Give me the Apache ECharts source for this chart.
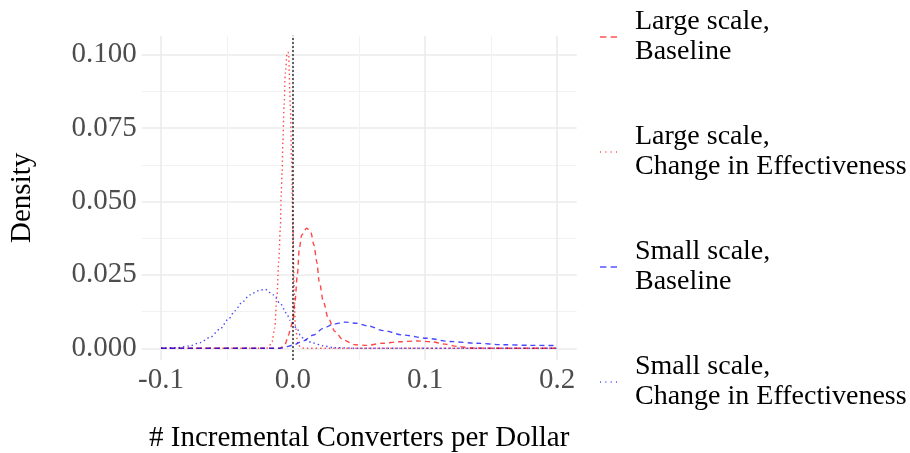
<!DOCTYPE html>
<html>
<head>
<meta charset="utf-8">
<script src="https://cdn.jsdelivr.net/npm/echarts@6/dist/echarts.min.js"></script>
<style>html,body{margin:0;padding:0;background:#fff;}#chart{width:910px;height:453px;}</style>
</head>
<body>
<div id="chart"></div>
<script>
// ---- data ----
var seriesNames = ['Large scale,\nBaseline', 'Large scale,\nChange in Effectiveness', 'Small scale,\nBaseline', 'Small scale,\nChange in Effectiveness'];

var largeBaseX = [-0.1, -0.01, -0.0063, -0.0033, -0.002, -0.0002, 0.0015, 0.0033, 0.0048, 0.0066, 0.0104, 0.0134, 0.0159, 0.018, 0.0199, 0.023, 0.0267, 0.0318, 0.0381, 0.047, 0.056, 0.068, 0.08, 0.094, 0.105, 0.115, 0.125, 0.135, 0.15, 0.2];
var largeBaseY = [0, 0, 0.0011, 0.0045, 0.0068, 0.0091, 0.0159, 0.025, 0.034, 0.0386, 0.0409, 0.0397, 0.0352, 0.0295, 0.0227, 0.0159, 0.0102, 0.0057, 0.0028, 0.0012, 0.001, 0.0017, 0.0022, 0.0025, 0.0022, 0.0014, 0.0006, 0.0001, 0, 0];

var largeChangeX = [-0.1, -0.02, -0.0184, -0.0159, -0.0139, -0.0121, -0.0108, -0.0096, -0.0089, -0.0083, -0.0076, -0.0068, -0.0058, -0.0045, -0.0038, -0.0033, -0.0028, -0.0025, -0.002, -0.0011, 0, 0.0009, 0.0017, 0.0038, 0.0068, 0.01, 0.2];
var largeChangeY = [0, 0, 0.0005, 0.0022, 0.0068, 0.0182, 0.0295, 0.0409, 0.0528, 0.0596, 0.0709, 0.0823, 0.0937, 0.1005, 0.1009, 0.1005, 0.0937, 0.088, 0.0823, 0.064, 0.040, 0.0199, 0.0079, 0.0011, 0.0001, 0, 0];

var smallBaseX = [-0.1, -0.01, -0.0073, 0.0002, 0.0078, 0.0154, 0.023, 0.0305, 0.0394, 0.0483, 0.057, 0.0684, 0.0836, 0.1013, 0.119, 0.139, 0.159, 0.1795, 0.2];
var smallBaseY = [0, 0, 0.0002, 0.0011, 0.0025, 0.0045, 0.0068, 0.0082, 0.0089, 0.0085, 0.0076, 0.006, 0.0045, 0.0034, 0.0023, 0.0017, 0.0012, 0.001, 0.0009];

var smallChangeX = [-0.1, -0.0881, -0.078, -0.0705, -0.0629, -0.0553, -0.049, -0.0439, -0.0389, -0.0326, -0.0263, -0.0212, -0.0149, -0.0098, -0.0048, -0.0023, 0.003, 0.0055, 0.0085, 0.015, 0.023, 0.031, 0.05, 0.2];
var smallChangeY = [0, 0.0002, 0.0008, 0.0019, 0.0037, 0.0065, 0.0099, 0.0128, 0.0155, 0.0182, 0.0196, 0.0201, 0.0182, 0.0153, 0.0119, 0.0096, 0.0068, 0.0045, 0.003, 0.0018, 0.0008, 0.0002, 0, 0];

var xTicks = [-0.1, 0.0, 0.1, 0.2];
var xMinorTicks = [-0.05, 0.05, 0.15];
var yTicks = [0, 0.025, 0.05, 0.075, 0.1];
var yMinorTicks = [0.0125, 0.0375, 0.0625, 0.0875];
var refLines = [0];

// ---- build chart ----
function zip(xs, ys) { return xs.map(function (x, i) { return [x, ys[i]]; }); }
var FONT = 'Liberation Serif';
var colors = ['rgb(255,0,0)', 'rgb(255,0,0)', 'rgb(0,0,255)', 'rgb(0,0,255)'];
var dashes = [[5, 4], [1.4, 3], [5, 4], [1.4, 3]];
var DASH_ICON = 'path://M0,0H6V1H0Z M10,0H16V1H10Z';
var DOT_ICON = 'path://M0,0H1V1H0Z M5,0H6V1H5Z M10,0H11V1H10Z M15,0H16V1H15Z';
var icons = [DASH_ICON, DOT_ICON, DASH_ICON, DOT_ICON];
var datas = [zip(largeBaseX, largeBaseY), zip(largeChangeX, largeChangeY), zip(smallBaseX, smallBaseY), zip(smallChangeX, smallChangeY)];

var xMin = -0.1146, xMax = 0.2149, yMin = -0.004, yMax = 0.1065;

var series = datas.map(function (d, i) {
  return {
    name: seriesNames[i], type: 'line', data: d, xAxisIndex: 0, yAxisIndex: 0,
    symbol: 'none', smooth: 0.3, smoothMonotone: 'x',
    color: colors[i],
    lineStyle: { color: colors[i], width: 1.4, type: dashes[i], opacity: 0.72 },
    z: 3
  };
});
series.push({
  type: 'line', data: [], xAxisIndex: 0, yAxisIndex: 0, silent: true,
  markLine: {
    silent: true, symbol: 'none', label: { show: false },
    lineStyle: { color: 'rgba(0,0,0,0.65)', type: [2, 2], width: 1.8 },
    data: refLines.map(function (v) { return { xAxis: v }; })
  },
  z: 4
});

var chart = echarts.init(document.getElementById('chart'), null, { renderer: 'canvas' });
chart.setOption({
  animation: false,
  backgroundColor: '#fff',
  grid: { left: 141.7, top: 35.7, width: 435, height: 324.3, containLabel: false, outerBoundsMode: 'none' },
  xAxis: [
    {
      type: 'value', min: xMin, max: xMax,
      name: '# Incremental Converters per Dollar', nameLocation: 'middle', nameGap: 64,
      nameTextStyle: { fontFamily: FONT, fontSize: 29, color: '#000' },
      axisLine: { show: false }, axisTick: { show: false, customValues: xTicks },
      axisLabel: { customValues: xTicks, fontFamily: FONT, fontSize: 29, color: '#4d4d4d', margin: 6,
        formatter: function (v) { return (+v).toFixed(1); } },
      splitLine: { show: true, lineStyle: { color: '#ebebeb', width: 1.6 } }
    },
    {
      type: 'value', min: xMin, max: xMax, gridIndex: 0, position: 'bottom',
      axisLine: { show: false }, axisTick: { show: false, customValues: xMinorTicks },
      axisLabel: { show: false, customValues: xMinorTicks },
      splitLine: { show: true, lineStyle: { color: '#f2f2f2', width: 1 } }
    }
  ],
  yAxis: [
    {
      type: 'value', min: yMin, max: yMax,
      name: 'Density', nameLocation: 'middle', nameGap: 105,
      nameTextStyle: { fontFamily: FONT, fontSize: 29, color: '#000' },
      axisLine: { show: false }, axisTick: { show: false, customValues: yTicks },
      axisLabel: { customValues: yTicks, fontFamily: FONT, fontSize: 29, color: '#4d4d4d', margin: 5,
        formatter: function (v) { return (+v).toFixed(3); } },
      splitLine: { show: true, lineStyle: { color: '#ebebeb', width: 1.6 } }
    },
    {
      type: 'value', min: yMin, max: yMax, gridIndex: 0, position: 'left',
      axisLine: { show: false }, axisTick: { show: false, customValues: yMinorTicks },
      axisLabel: { show: false, customValues: yMinorTicks },
      splitLine: { show: true, lineStyle: { color: '#f2f2f2', width: 1 } }
    }
  ],
  legend: {
    orient: 'vertical', left: 600, top: 7, padding: 0, itemWidth: 17, itemHeight: 1.5, itemGap: 55,
    data: seriesNames.map(function (n, i) { return { name: n, icon: icons[i], itemStyle: { color: colors[i], opacity: 1 } }; }),
    textStyle: { fontFamily: FONT, fontSize: 28, lineHeight: 30, color: '#000', padding: [0, 0, 0, 13] }
  },
  series: series
});
</script>
</body>
</html>
